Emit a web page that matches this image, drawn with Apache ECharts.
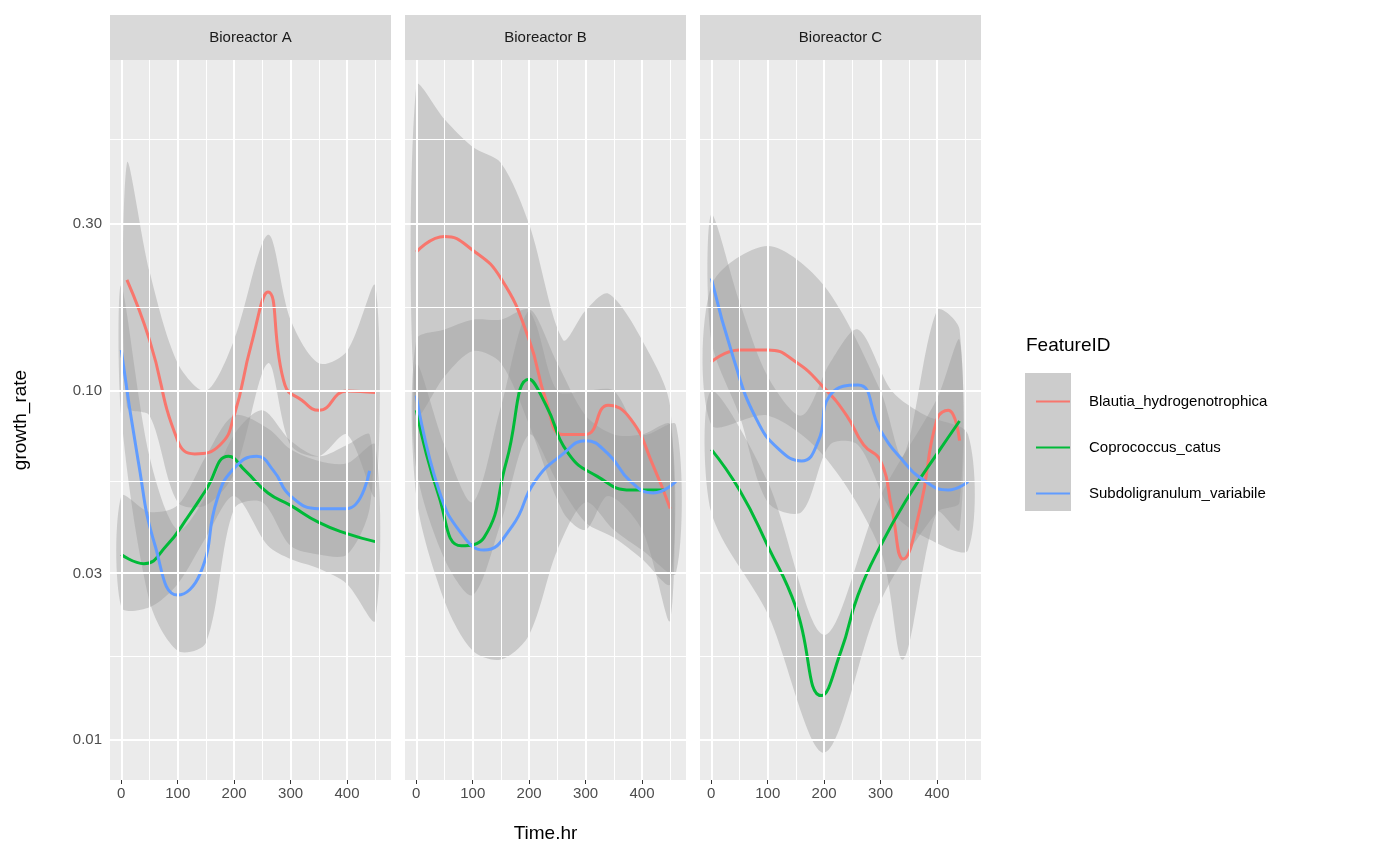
<!DOCTYPE html>
<html>
<head>
<meta charset="utf-8">
<script src="https://cdn.jsdelivr.net/npm/echarts@6/dist/echarts.min.js"></script>
<style>html,body{margin:0;padding:0;background:#fff}#chart{width:1400px;height:866px}</style>
</head>
<body>
<div id="chart"></div>
<script>
// facets and species
const panels = ["Bioreactor A", "Bioreactor B", "Bioreactor C"];
const species = ["Blautia_hydrogenotrophica", "Coprococcus_catus", "Subdoligranulum_variabile"];
const colors = ["#F8766D", "#00BA38", "#619CFF"];
const yTicks = [0.01, 0.03, 0.1, 0.3];
const yTickLabels = ["0.01", "0.03", "0.10", "0.30"];
const yMinor = [0.0055, 0.0173, 0.055, 0.173, 0.52];
const xTicks = [0, 100, 200, 300, 400];
const xMinor = [50, 150, 250, 350, 450];

// smooth fits [time, growth_rate]
const fitA_blautia = [[10,0.208],[50,0.14],[100,0.072],[130,0.066],[175,0.07],[200,0.085],[230,0.135],[260,0.192],[290,0.104],[320,0.094],[350,0.088],[400,0.1],[450,0.099]];
const fitA_copro = [[0,0.034],[40,0.032],[80,0.036],[120,0.044],[150,0.052],[190,0.065],[220,0.059],[260,0.051],[300,0.047],[350,0.042],[400,0.039],[450,0.037]];
const fitA_subdo = [[0,0.131],[30,0.063],[60,0.036],[100,0.026],[140,0.03],[170,0.049],[200,0.06],[240,0.065],[270,0.059],[300,0.05],[350,0.046],[400,0.046],[440,0.059]];
const fitB_blautia = [[0,0.25],[50,0.277],[100,0.253],[150,0.21],[200,0.14],[230,0.094],[260,0.075],[300,0.075],[340,0.091],[380,0.083],[420,0.061],[450,0.046]];
const fitB_copro = [[0,0.088],[40,0.05],[80,0.036],[120,0.038],[160,0.063],[200,0.108],[230,0.091],[270,0.066],[320,0.057],[380,0.052],[440,0.052]];
const fitB_subdo = [[0,0.097],[40,0.052],[80,0.039],[120,0.035],[170,0.041],[210,0.055],[260,0.066],[300,0.072],[340,0.066],[380,0.055],[420,0.051],[460,0.055]];
const fitC_blautia = [[0,0.121],[50,0.131],[100,0.131],[150,0.121],[200,0.102],[240,0.085],[270,0.07],[300,0.063],[320,0.046],[340,0.033],[370,0.046],[400,0.083],[420,0.088],[440,0.072]];
const fitC_copro = [[0,0.068],[50,0.052],[100,0.036],[150,0.024],[195,0.0134],[230,0.018],[260,0.026],[300,0.036],[350,0.05],[400,0.066],[440,0.082]];
const fitC_subdo = [[0,0.21],[40,0.123],[80,0.083],[120,0.068],[160,0.063],[190,0.072],[210,0.097],[260,0.104],[300,0.077],[340,0.063],[380,0.055],[420,0.052],[455,0.055]];

// confidence ribbons [time, lower, upper]
const bandA_blautia = [[10,0.09,0.45],[50,0.085,0.22],[100,0.048,0.12],[150,0.047,0.1],[200,0.058,0.14],[260,0.12,0.28],[300,0.07,0.16],[350,0.065,0.12],[400,0.075,0.13],[450,0.05,0.2]];
const bandA_copro = [[0,0.024,0.05],[50,0.024,0.045],[100,0.028,0.047],[150,0.038,0.065],[200,0.05,0.085],[260,0.036,0.078],[300,0.033,0.068],[350,0.031,0.063],[400,0.028,0.062],[450,0.022,0.07]];
const bandA_subdo = [[0,0.085,0.2],[50,0.025,0.065],[100,0.018,0.04],[150,0.019,0.05],[200,0.046,0.075],[250,0.048,0.088],[300,0.036,0.072],[350,0.034,0.065],[400,0.034,0.07],[440,0.046,0.075]];
const bandB_blautia = [[0,0.085,0.75],[50,0.11,0.6],[100,0.13,0.5],[150,0.12,0.45],[200,0.08,0.3],[260,0.045,0.14],[300,0.04,0.17],[340,0.05,0.19],[400,0.04,0.14],[450,0.022,0.09]];
const bandB_copro = [[0,0.06,0.12],[50,0.033,0.07],[100,0.026,0.048],[150,0.042,0.09],[200,0.075,0.17],[250,0.055,0.12],[300,0.042,0.085],[350,0.038,0.075],[400,0.033,0.075],[450,0.028,0.08]];
const bandB_subdo = [[0,0.05,0.14],[50,0.025,0.15],[100,0.018,0.16],[150,0.017,0.16],[200,0.02,0.17],[250,0.035,0.1],[300,0.048,0.1],[350,0.04,0.1],[400,0.035,0.075],[460,0.03,0.08]];
const bandC_blautia = [[0,0.08,0.2],[100,0.085,0.26],[200,0.065,0.2],[300,0.035,0.1],[340,0.017,0.065],[400,0.045,0.17],[440,0.04,0.15]];
const bandC_copro = [[0,0.045,0.1],[100,0.023,0.055],[200,0.0092,0.02],[300,0.025,0.05],[400,0.045,0.095],[440,0.048,0.14]];
const bandC_subdo = [[0,0.14,0.32],[50,0.085,0.18],[100,0.048,0.11],[160,0.045,0.085],[210,0.07,0.12],[260,0.07,0.15],[320,0.045,0.1],[380,0.038,0.085],[455,0.035,0.075]];

const fits = [[fitA_blautia, fitA_copro, fitA_subdo], [fitB_blautia, fitB_copro, fitB_subdo], [fitC_blautia, fitC_copro, fitC_subdo]];
const bands = [[bandA_blautia, bandA_copro, bandA_subdo], [bandB_blautia, bandB_copro, bandB_subdo], [bandC_blautia, bandC_copro, bandC_subdo]];

const ty = v => Math.log10(v);
const yMin = ty(0.00768), yMax = ty(0.887);
const gridLefts = [110, 405, 700];
const gridW = 281;
const FONT = "Liberation Sans";

const chart = echarts.init(document.getElementById("chart"));
const grid = [], xAxis = [], yAxis = [], series = [], graphic = [];

panels.forEach((name, i) => {
  grid.push({ left: gridLefts[i], top: 60, width: gridW, height: 720, backgroundColor: "#EBEBEB", show: true, borderWidth: 0 });
  xAxis.push({
    type: "value", gridIndex: i, min: -20, max: 478,
    name: i === 1 ? "Time.hr" : "", nameLocation: "middle", nameGap: 44,
    nameTextStyle: { fontSize: 19, color: "#000", fontFamily: FONT },
    axisLine: { show: false }, splitLine: { show: false },
    axisTick: { customValues: xTicks, length: 4, lineStyle: { color: "#333" } },
    axisLabel: { customValues: xTicks, fontSize: 15, color: "#4D4D4D", margin: 6, fontFamily: FONT }
  });
  yAxis.push({
    type: "value", gridIndex: i, min: yMin, max: yMax,
    name: i === 0 ? "growth_rate" : "", nameLocation: "middle", nameGap: 80, nameRotate: 90,
    nameTextStyle: { fontSize: 19, color: "#000", fontFamily: FONT },
    axisLine: { show: false }, splitLine: { show: false },
    axisTick: { show: i === 0, customValues: yTicks.map(ty), length: 4, lineStyle: { color: "#333" } },
    axisLabel: {
      show: i === 0, customValues: yTicks.map(ty), fontSize: 15, color: "#4D4D4D", margin: 8, fontFamily: FONT,
      formatter: v => { const k = yTicks.findIndex(t => Math.abs(ty(t) - v) < 1e-6); return k >= 0 ? yTickLabels[k] : ""; }
    }
  });
  // gridlines
  series.push({
    type: "line", xAxisIndex: i, yAxisIndex: i, data: [[0, ty(0.1)]], symbol: "none", z: 0,
    lineStyle: { opacity: 0 }, silent: true,
    markLine: {
      silent: true, symbol: "none", label: { show: false }, animation: false,
      data: [
        ...yMinor.filter(v => ty(v) > yMin && ty(v) < yMax).map(v => ({ yAxis: ty(v), lineStyle: { color: "#fff", width: 1, type: "solid" } })),
        ...yTicks.map(v => ({ yAxis: ty(v), lineStyle: { color: "#fff", width: 2, type: "solid" } })),
        ...xMinor.map(v => ({ xAxis: v, lineStyle: { color: "#fff", width: 1, type: "solid" } })),
        ...xTicks.map(v => ({ xAxis: v, lineStyle: { color: "#fff", width: 2, type: "solid" } }))
      ]
    }
  });
  // ribbons as smoothed polygons placed through the axes
  species.forEach((sp, j) => {
    const b = bands[i][j];
    series.push({
      type: "custom", xAxisIndex: i, yAxisIndex: i, silent: true, z: 1, clip: true,
      data: b.map(d => [d[0], ty(d[1]), ty(d[2])]),
      renderItem: (params, api) => {
        if (params.dataIndex !== 0) return null;
        const up = b.map(d => api.coord([d[0], ty(d[2])]));
        const lo = b.map(d => api.coord([d[0], ty(d[1])])).reverse();
        return {
          type: "group",
          children: [
            { type: "polyline", shape: { points: up, smooth: 0.4 }, style: { fill: "none", stroke: "none" } },
            { type: "polygon", shape: { points: up.concat(lo), smooth: 0.3 }, style: { fill: "rgba(153,153,153,0.4)" } }
          ]
        };
      }
    });
  });
  species.forEach((sp, j) => {
    series.push({
      name: sp, type: "line", xAxisIndex: i, yAxisIndex: i, smooth: true, symbol: "none", z: 3,
      color: colors[j], lineStyle: { width: 3, color: colors[j] },
      data: fits[i][j].map(d => [d[0], ty(d[1])])
    });
  });
  graphic.push({ type: "rect", shape: { x: gridLefts[i], y: 15, width: gridW, height: 45 }, style: { fill: "#D9D9D9" } });
  graphic.push({ type: "text", x: gridLefts[i] + gridW / 2, y: 38, style: { text: name, fontSize: 15, fill: "#1A1A1A", align: "center", verticalAlign: "middle", fontFamily: FONT } });
});

graphic.push({ type: "text", x: 1026, y: 346, style: { text: "FeatureID", fontSize: 19, fill: "#000", verticalAlign: "middle", fontFamily: FONT } });
graphic.push({ type: "rect", shape: { x: 1025, y: 373, width: 46, height: 138 }, style: { fill: "#CCCCCC" } });

chart.setOption({
  animation: false,
  grid, xAxis, yAxis, series, graphic,
  legend: {
    data: species, orient: "vertical", left: 1031, top: 389, itemGap: 31,
    itemWidth: 34, itemHeight: 14,
    icon: "path://M0,6L34,6L34,8L0,8Z",
    textStyle: { fontSize: 15, color: "#000", fontFamily: FONT, padding: [0, 0, 0, 14] }
  }
});
</script>
</body>
</html>
